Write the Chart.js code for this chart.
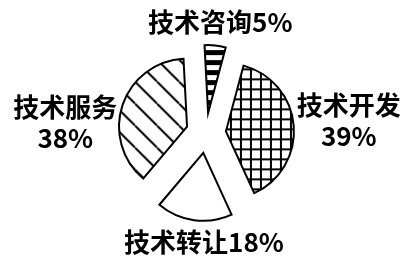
<!DOCTYPE html>
<html>
<head>
<meta charset="utf-8">
<script src="https://cdn.jsdelivr.net/npm/chart.js@4/dist/chart.umd.min.js"></script>
<style>
    html, body { margin: 0; padding: 0; background: #fff; }
    #wrap { width: 404px; height: 256px; position: relative; }
</style>
</head>
<body>
<div id="wrap"><canvas id="tech-pie"></canvas></div>
<script>
// Chart data
const categories = ['技术咨询', '技术开发', '技术转让', '技术服务'];
const shares = [5, 39, 18, 38];

document.addEventListener('DOMContentLoaded', function() {
    const canvas = document.getElementById('tech-pie');

    /**
     * Builds a repeating fill pattern from a small tile
     */
    function makePattern(size, drawTile) {
        const tile = document.createElement('canvas');
        tile.width = size;
        tile.height = size;
        const t = tile.getContext('2d');
        t.fillStyle = '#fff';
        t.fillRect(0, 0, size, size);
        drawTile(t, size);
        return canvas.getContext('2d').createPattern(tile, 'repeat');
    }

    // horizontal black bars (技术咨询)
    const stripes = makePattern(10, function(t, s) {
        t.fillStyle = '#000';
        t.fillRect(0, 0, s, 5);
    });

    // square grid (技术开发)
    const grid = makePattern(10, function(t, s) {
        t.fillStyle = '#000';
        t.fillRect(0, 0, s, 2);
        t.fillRect(0, 0, 2, s);
    });

    // diagonal hatch (技术服务)
    const hatch = makePattern(22, function(t, s) {
        t.strokeStyle = '#000';
        t.lineWidth = 2;
        t.beginPath();
        for (let x0 = -s; x0 <= s; x0 += s) {
            t.moveTo(x0, 0);
            t.lineTo(x0 + s, s);
        }
        t.stroke();
    });

    const fills = [stripes, grid, '#fff', hatch];

    // how far each slice is pulled away from the centre
    const explode = [20, 20, 20, 20];

    // label anchors, in units of the pie radius, from the pie centre
    const labelAnchor = [[0.21, -1.63], [2.10, -0.18], [-0.03, 1.61], [-2.07, -0.15]];
    const twoLines = [false, true, false, true];

    const explodePlugin = {
        id: 'explode',
        beforeDatasetDraw(chart, args) {
            const ctx = chart.ctx;
            args.meta.data.forEach(function(arc, i) {
                const mid = (arc.startAngle + arc.endAngle) / 2;
                ctx.save();
                ctx.translate(Math.cos(mid) * explode[i], Math.sin(mid) * explode[i]);
                arc.draw(ctx);
                ctx.restore();
            });
            return false;
        },
        afterDatasetsDraw(chart) {
            const ctx = chart.ctx;
            const arcs = chart.getDatasetMeta(0).data;
            ctx.save();
            ctx.fillStyle = '#000';
            ctx.font = 'bold 26px "Noto Sans CJK SC"';
            ctx.textAlign = 'center';
            ctx.textBaseline = 'middle';
            arcs.forEach(function(arc, i) {
                const r = arc.outerRadius;
                const x = arc.x + labelAnchor[i][0] * r;
                const y = arc.y + labelAnchor[i][1] * r;
                const pct = shares[i] + '%';
                if (twoLines[i]) {
                    ctx.fillText(categories[i], x, y - 15.5);
                    ctx.fillText(pct, x, y + 15.5);
                } else {
                    ctx.fillText(categories[i] + pct, x, y);
                }
            });
            ctx.restore();
        }
    };

    new Chart(canvas, {
        type: 'pie',
        data: {
            labels: categories,
            datasets: [{
                data: shares,
                backgroundColor: fills,
                borderColor: '#000',
                borderWidth: 2,
                borderJoinStyle: 'miter'
            }]
        },
        options: {
            responsive: true,
            maintainAspectRatio: false,
            animation: false,
            rotation: -3,
            radius: 68,
            layout: {
                padding: { left: 8, top: 10, right: 0, bottom: 0 }
            },
            plugins: {
                legend: { display: false },
                tooltip: { enabled: false }
            }
        },
        plugins: [explodePlugin]
    });
});
</script>
</body>
</html>
